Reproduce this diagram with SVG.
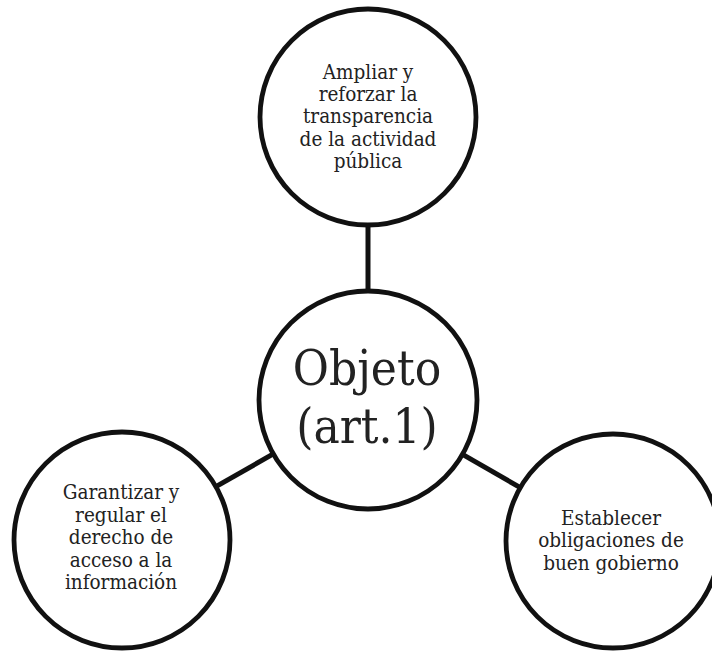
<svg xmlns="http://www.w3.org/2000/svg" width="712" height="651" viewBox="0 0 712 651">
<style>
.node{fill:#fff;stroke:#111;stroke-width:4.8}
.conn{stroke:#111;stroke-width:5;fill:none}
text{font-family:"DejaVu Serif Condensed","DejaVu Serif",serif;font-stretch:condensed;fill:#222;text-anchor:middle}
.t{font-size:20.5px}
.big{font-size:49px}
</style>
<rect width="712" height="651" fill="#fff"/>
<g id="connectors">
<line class="conn" x1="368" y1="226" x2="368" y2="292"/>
<line class="conn" x1="215.9" y1="486.6" x2="273.3" y2="453.9"/>
<line class="conn" x1="462.5" y1="454.4" x2="520.3" y2="487.6"/>
</g>
<g id="node-top">
<circle class="node" cx="368" cy="117" r="108"/>
<text class="t" x="368" y="79">Ampliar y</text>
<text class="t" x="368" y="101">reforzar la</text>
<text class="t" x="368" y="123">transparencia</text>
<text class="t" x="368" y="145.5">de la actividad</text>
<text class="t" x="368" y="168">pública</text>
</g>
<g id="node-center">
<circle class="node" cx="368" cy="400" r="109"/>
<text class="big" x="367" y="385">Objeto</text>
<text class="big" x="367" y="443">(art.1)</text>
</g>
<g id="node-left">
<circle class="node" cx="122" cy="540" r="108"/>
<text class="t" x="121" y="499">Garantizar y</text>
<text class="t" x="121" y="521.5">regular el</text>
<text class="t" x="121" y="544">derecho de</text>
<text class="t" x="121" y="566.5">acceso a la</text>
<text class="t" x="121" y="588.5">información</text>
</g>
<g id="node-right">
<circle class="node" cx="613" cy="541" r="107"/>
<text class="t" x="611" y="524.5">Establecer</text>
<text class="t" x="611" y="547">obligaciones de</text>
<text class="t" x="611" y="569.5">buen gobierno</text>
</g>
</svg>
